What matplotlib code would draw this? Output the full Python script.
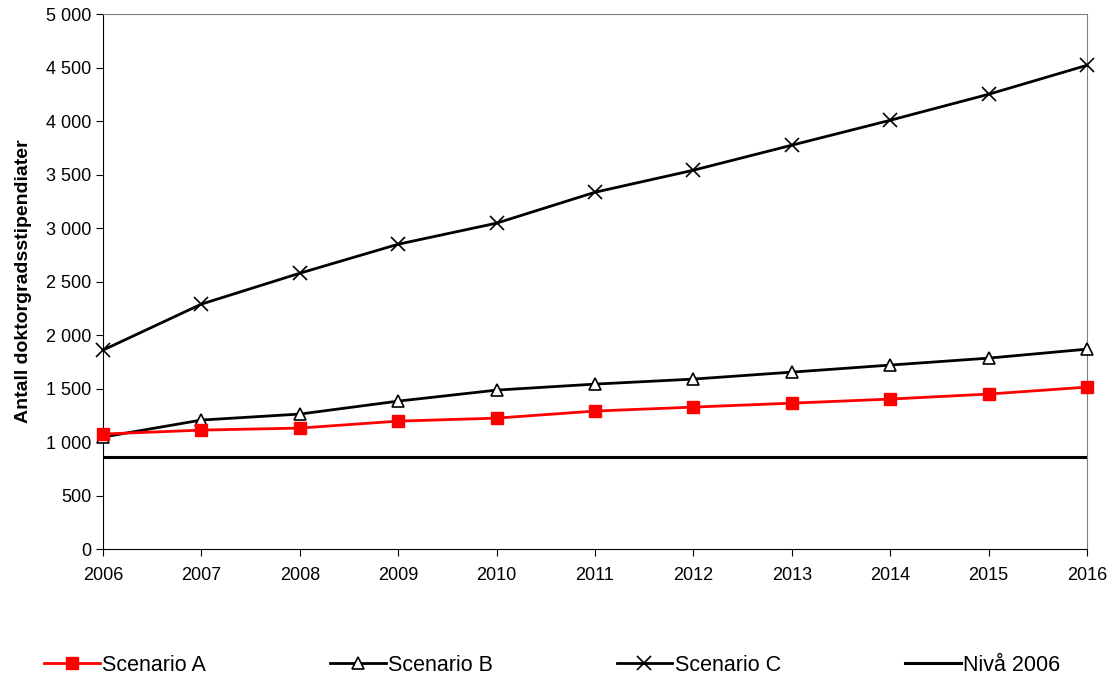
import matplotlib.pyplot as plt
from matplotlib.ticker import FuncFormatter

plt.rcParams['font.family'] = ['Liberation Sans', 'DejaVu Sans']

years = [2006, 2007, 2008, 2009, 2010, 2011, 2012, 2013, 2014, 2015, 2016]
scenario_a = [1075, 1112, 1131, 1196, 1224, 1290, 1327, 1364, 1402, 1449, 1514]
scenario_b = [1047, 1206, 1262, 1383, 1486, 1542, 1589, 1654, 1720, 1785, 1869]
scenario_c = [1860, 2290, 2579, 2850, 3047, 3336, 3542, 3776, 4009, 4252, 4523]
niva_2006 = [860] * len(years)

fig = plt.figure(figsize=(11.16, 6.8), dpi=100)
ax = fig.add_axes([0.0923, 0.1926, 0.8817, 0.7864])

ax.plot(years, scenario_a, color='red', lw=2, marker='s', ms=9, mfc='red', mec='red',
        label='Scenario A', clip_on=False, zorder=4)
ax.plot(years, scenario_b, color='black', lw=2, marker='^', ms=9, mfc='white', mec='black',
        mew=1.2, label='Scenario B', clip_on=False, zorder=3)
ax.plot(years, scenario_c, color='black', lw=2, marker='x', ms=10, mew=1.2,
        label='Scenario C', clip_on=False, zorder=3)
ax.plot(years, niva_2006, color='black', lw=2.2, label='Nivå 2006')

ax.set_xlim(2006, 2016)
ax.set_ylim(0, 5000)
ax.set_xticks(years)
ax.set_yticks(range(0, 5001, 500))
ax.yaxis.set_major_formatter(FuncFormatter(lambda v, p: f'{int(v):,}'.replace(',', ' ')))
ax.tick_params(labelsize=13, direction='out', length=5, color='black')
ax.tick_params(axis='x', pad=8)
ax.set_ylabel('Antall doktorgradsstipendiater', fontsize=14, fontweight='bold', labelpad=10)

for s in ['top', 'right']:
    ax.spines[s].set_color('gray')
for s in ['left', 'bottom']:
    ax.spines[s].set_color('black')

fig.legend(loc='lower left', bbox_to_anchor=(0.022, -0.022, 0.945, 0.05), mode='expand',
           ncol=4, frameon=False, fontsize=15.5, handlelength=2.6, handletextpad=0.1)

fig.savefig('out.png', dpi=100)
